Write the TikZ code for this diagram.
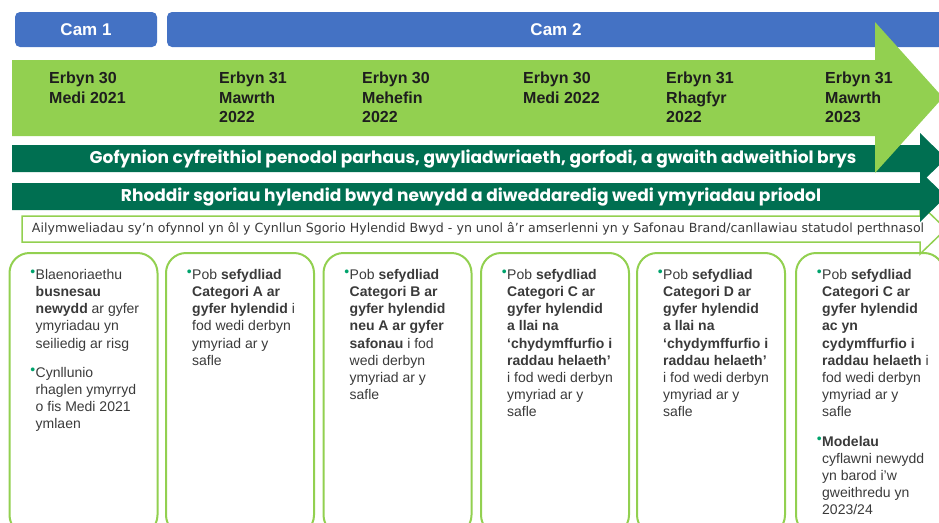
\documentclass[tikz,border=0pt]{standalone}
\usepackage{fontspec}
\setmainfont{Liberation Sans}
\newfontfamily\barfont{Poppins}
\newfontfamily\notefont{DejaVu Sans}
\usetikzlibrary{positioning}

\definecolor{cambl}{HTML}{4472C4}
\definecolor{limegr}{HTML}{92D050}
\definecolor{deepgr}{HTML}{006F51}
\definecolor{dotgr}{HTML}{00A36C}
\definecolor{txtgr}{HTML}{3A3A3A}
\definecolor{datetx}{HTML}{1E1E1E}

\newcommand{\blt}{\llap{\textcolor{dotgr}{\raisebox{2.5pt}{\scalebox{1.0}{\textbullet}}}\kern0.5pt}}

\tikzset{
  cambox/.style={fill=cambl, rounded corners=5pt, minimum height=35pt, inner sep=0pt},
  camlbl/.style={text=white, font=\fontsize{17}{20}\selectfont\bfseries},
  datelbl/.style={anchor=north west, align=left, inner sep=0pt, text=datetx,
    font=\fontsize{16}{19.5}\selectfont\bfseries},
  barlbl/.style={text=white, inner sep=0pt, font=\barfont\fontsize{17}{20}\selectfont\bfseries},
  stagebox/.style={draw=limegr, line width=2pt, rounded corners=20pt,
    minimum width=148pt, minimum height=282pt, inner sep=0pt},
  boxtxt/.style={anchor=north west, align=left, inner sep=0pt, text=txtgr,
    font=\fontsize{14}{17.2}\selectfont}
}

\begin{document}
\begin{tikzpicture}[x=1pt,y=-1pt]
  \useasboundingbox (0,0) rectangle (939,522);
  \clip (0,0) rectangle (939,522);

  % phases
  \node[cambox, minimum width=142pt] (cam1) at (86,29.5) {};
  \node[cambox, minimum width=778pt] (cam2) at (556,29.5) {};
  \node[camlbl] (cam1lbl) at (cam1) {Cam 1};
  \node[camlbl] (cam2lbl) at (cam2) {Cam 2};

  % arrows
  \draw[limegr, line width=1.5pt, fill=white]
    (22,216) -- (920,216) -- (920,204) -- (946,229) -- (920,254) -- (920,242) -- (22,242) -- cycle;
  \fill[deepgr] (12,183) -- (920,183) -- (920,171) -- (946,196.5) -- (920,222) -- (920,210) -- (12,210) -- cycle;
  \fill[deepgr] (12,145) -- (920,145) -- (920,133) -- (946,158.5) -- (920,184) -- (920,172) -- (12,172) -- cycle;
  \fill[limegr] (12,60) -- (875,60) -- (875,22) -- (943,97.5) -- (875,173) -- (875,136) -- (12,136) -- cycle;

  % deadlines
  \node[datelbl] (d1) at (49,72)  {Erbyn 30\\Medi 2021};
  \node[datelbl] (d2) at (219,72) {Erbyn 31\\Mawrth\\2022};
  \node[datelbl] (d3) at (362,72) {Erbyn 30\\Mehefin\\2022};
  \node[datelbl] (d4) at (523,72) {Erbyn 30\\Medi 2022};
  \node[datelbl] (d5) at (666,72) {Erbyn 31\\Rhagfyr\\2022};
  \node[datelbl] (d6) at (825,72) {Erbyn 31\\Mawrth\\2023};

  \node[barlbl] (bar1) at (473,159) {Gofynion cyfreithiol penodol parhaus, gwyliadwriaeth, gorfodi, a gwaith adweithiol brys};
  \node[barlbl] (bar2) at (471,197) {Rhoddir sgoriau hylendid bwyd newydd a diweddaredig wedi ymyriadau priodol};
  \node[text=txtgr, inner sep=0pt, font=\notefont\fontsize{12.6}{14}\selectfont] (bar3) at (478,229)
    {Ailymweliadau sy’n ofynnol yn ôl y Cynllun Sgorio Hylendid Bwyd - yn unol â’r amserlenni yn y Safonau Brand/canllawiau statudol perthnasol};

  % stages
  \foreach \i/\cx in {1/83.5, 2/240, 3/397.5, 4/555, 5/711, 6/870}
    \node[stagebox] (box\i) at (\cx,394) {};

  \node[boxtxt] (txt1) at ([xshift=27pt, yshift=-17pt]box1.north west)
    {\blt Blaenoriaethu\\ \textbf{busnesau}\\ \textbf{newydd} ar gyfer\\ ymyriadau yn\\ seiliedig ar risg\\[12pt]
     \blt Cynllunio\\ rhaglen ymyrryd\\ o fis Medi 2021\\ ymlaen};
  \node[boxtxt] (txt2) at ([xshift=27pt, yshift=-17pt]box2.north west)
    {\blt Pob \textbf{sefydliad}\\ \textbf{Categori A ar}\\ \textbf{gyfer hylendid} i\\ fod wedi derbyn\\ ymyriad ar y\\ safle};
  \node[boxtxt] (txt3) at ([xshift=27pt, yshift=-17pt]box3.north west)
    {\blt Pob \textbf{sefydliad}\\ \textbf{Categori B ar}\\ \textbf{gyfer hylendid}\\ \textbf{neu A ar gyfer}\\ \textbf{safonau} i fod\\ wedi derbyn\\ ymyriad ar y\\ safle};
  \node[boxtxt] (txt4) at ([xshift=27pt, yshift=-17pt]box4.north west)
    {\blt Pob \textbf{sefydliad}\\ \textbf{Categori C ar}\\ \textbf{gyfer hylendid}\\ \textbf{a llai na}\\ \textbf{‘chydymffurfio i}\\ \textbf{raddau helaeth’}\\ i fod wedi derbyn\\ ymyriad ar y\\ safle};
  \node[boxtxt] (txt5) at ([xshift=27pt, yshift=-17pt]box5.north west)
    {\blt Pob \textbf{sefydliad}\\ \textbf{Categori D ar}\\ \textbf{gyfer hylendid}\\ \textbf{a llai na}\\ \textbf{‘chydymffurfio i}\\ \textbf{raddau helaeth’}\\ i fod wedi derbyn\\ ymyriad ar y\\ safle};
  \node[boxtxt] (txt6) at ([xshift=27pt, yshift=-17pt]box6.north west)
    {\blt Pob \textbf{sefydliad}\\ \textbf{Categori C ar}\\ \textbf{gyfer hylendid}\\ \textbf{ac yn}\\ \textbf{cydymffurfio i}\\ \textbf{raddau helaeth} i\\ fod wedi derbyn\\ ymyriad ar y\\ safle\\[12pt]
     \blt \textbf{Modelau}\\ cyflawni newydd\\ yn barod i’w\\ gweithredu yn\\ 2023/24};

\end{tikzpicture}
\end{document}
